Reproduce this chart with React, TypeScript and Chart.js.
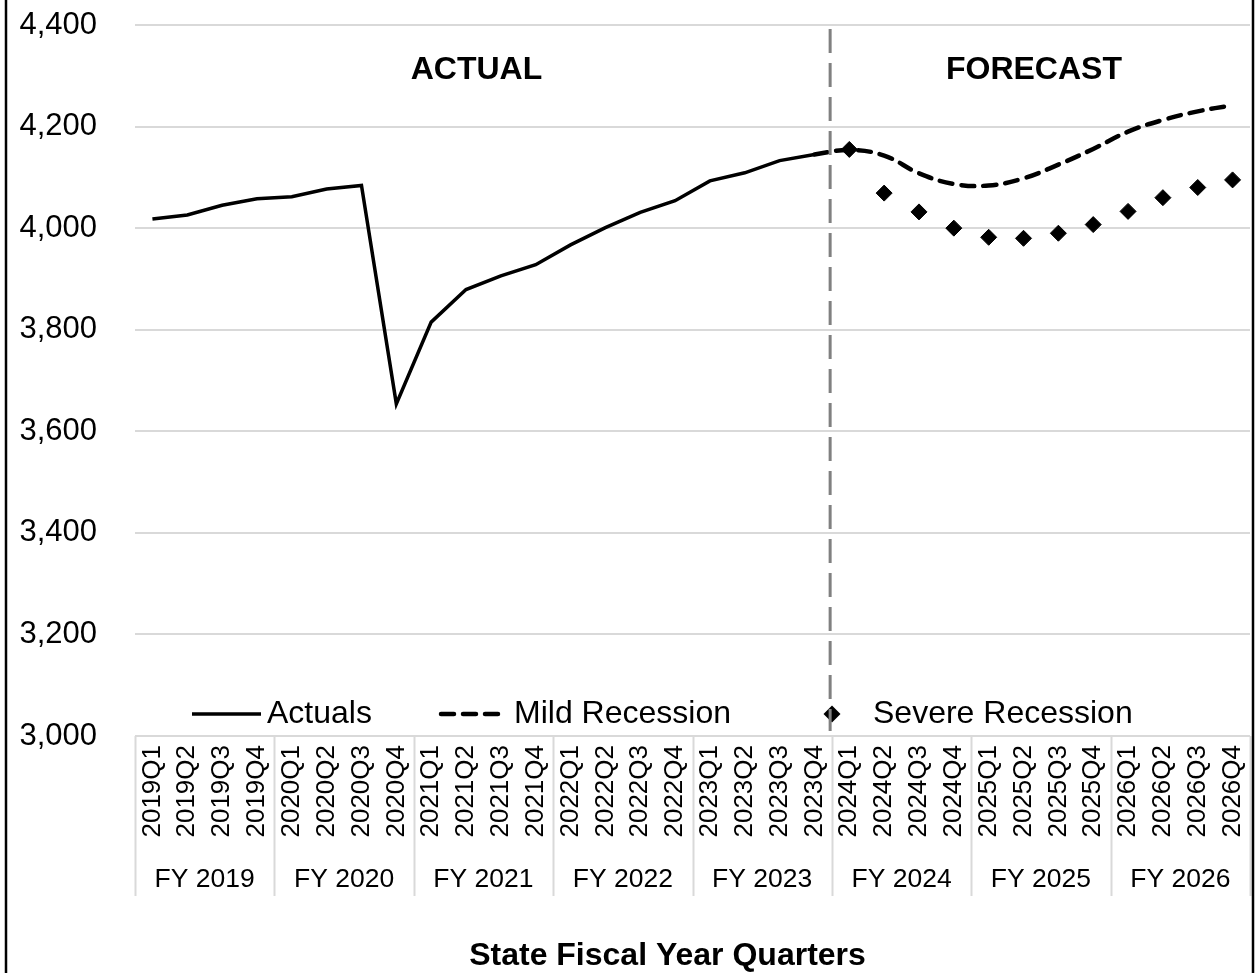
import { useEffect, useRef } from 'react';
import { Chart, registerables } from 'chart.js';

Chart.register(...registerables);

const FONT = "'Liberation Sans', Arial, Helvetica, sans-serif";

// Quarter categories along the x axis
const quarters = [
  '2019Q1', '2019Q2', '2019Q3', '2019Q4',
  '2020Q1', '2020Q2', '2020Q3', '2020Q4',
  '2021Q1', '2021Q2', '2021Q3', '2021Q4',
  '2022Q1', '2022Q2', '2022Q3', '2022Q4',
  '2023Q1', '2023Q2', '2023Q3', '2023Q4',
  '2024Q1', '2024Q2', '2024Q3', '2024Q4',
  '2025Q1', '2025Q2', '2025Q3', '2025Q4',
  '2026Q1', '2026Q2', '2026Q3', '2026Q4',
];

// Fiscal-year group labels, four quarters each
const fiscalYears = ['FY 2019', 'FY 2020', 'FY 2021', 'FY 2022', 'FY 2023', 'FY 2024', 'FY 2025', 'FY 2026'];

const N = null;

const actuals = [
  4018, 4026, 4045, 4058, 4062, 4077, 4084, 3654,
  3815, 3879, 3906, 3928, 3967, 4001, 4031, 4054,
  4093, 4109, 4133, 4145, N, N, N, N,
  N, N, N, N, N, N, N, N,
];

const mildRecession = [
  N, N, N, N, N, N, N, N,
  N, N, N, N, N, N, N, N,
  N, N, N, 4145, 4154, 4143, 4108, 4087,
  4084, 4098, 4125, 4156, 4190, 4213, 4230, 4242,
];

const severeRecession = [
  N, N, N, N, N, N, N, N,
  N, N, N, N, N, N, N, N,
  N, N, N, N, 4155, 4069, 4032, 4000,
  3982, 3980, 3990, 4007, 4033, 4060, 4080, 4095,
];

const yTicks = { min: 3000, max: 4400, step: 200 };

const periodLabels = ['ACTUAL', 'FORECAST'];
const axisTitle = 'State Fiscal Year Quarters';
const seriesNames = ['Actuals', 'Mild Recession', 'Severe Recession'];

const GRID = '#d9d9d9';
const MILD_DASH = [13, 9];

const decorPlugin = {
  id: 'decor',
  afterDraw(chart: any) {
    const { ctx, chartArea } = chart;
    const x = chart.scales.x;
    const y = chart.scales.y;
    const H = chart.height;

    ctx.save();

    // Fiscal-year group separators and labels under the quarter ticks
    ctx.strokeStyle = GRID;
    ctx.lineWidth = 2;
    for (let k = 0; k <= fiscalYears.length; k++) {
      const px = Math.round(x.getPixelForValue(k * 4 - 0.5)) + 0.5;
      ctx.beginPath();
      ctx.moveTo(px, chartArea.bottom);
      ctx.lineTo(px, chartArea.bottom + 160);
      ctx.stroke();
    }
    ctx.fillStyle = '#000';
    ctx.font = `26.5px ${FONT}`;
    ctx.textAlign = 'center';
    ctx.textBaseline = 'middle';
    fiscalYears.forEach((fy, k) => {
      ctx.fillText(fy, x.getPixelForValue(k * 4 + 1.5), chartArea.bottom + 144);
    });

    // Axis title
    ctx.font = `bold 32px ${FONT}`;
    ctx.fillText(axisTitle, (chartArea.left + chartArea.right) / 2 - 25, chartArea.bottom + 220);

    // Period headings
    ctx.font = `bold 32px ${FONT}`;
    ctx.fillText(periodLabels[0], x.getPixelForValue(9.3), y.getPixelForValue(4312));
    ctx.fillText(periodLabels[1], x.getPixelForValue(25.3), y.getPixelForValue(4312));

    // Legend inside the plot, along the bottom
    const ly = chartArea.bottom - 22;
    ctx.font = `32px ${FONT}`;
    ctx.textAlign = 'left';
    ctx.strokeStyle = '#000';
    ctx.lineWidth = 3.5;
    ctx.lineCap = 'butt';
    ctx.beginPath();
    ctx.moveTo(192, ly);
    ctx.lineTo(261, ly);
    ctx.stroke();
    ctx.fillText(seriesNames[0], 267, ly);

    ctx.lineWidth = 4.5;
    ctx.lineCap = 'round';
    ctx.setLineDash(MILD_DASH);
    ctx.beginPath();
    ctx.moveTo(441, ly);
    ctx.lineTo(503, ly);
    ctx.stroke();
    ctx.setLineDash([]);
    ctx.fillText(seriesNames[1], 514, ly);

    const dx = 832;
    const r = 8.5;
    ctx.beginPath();
    ctx.moveTo(dx - r, ly);
    ctx.lineTo(dx, ly - r);
    ctx.lineTo(dx + r, ly);
    ctx.lineTo(dx, ly + r);
    ctx.closePath();
    ctx.fill();
    ctx.fillText(seriesNames[2], 873, ly);

    // Actual / forecast divider
    const vx = x.getPixelForValue(19.45);
    ctx.strokeStyle = '#808080';
    ctx.lineWidth = 3;
    ctx.lineCap = 'butt';
    ctx.setLineDash([24, 10]);
    ctx.beginPath();
    ctx.moveTo(vx, chartArea.top + 4);
    ctx.lineTo(vx, chartArea.bottom - 5);
    ctx.stroke();
    ctx.setLineDash([]);

    // Frame edges
    ctx.strokeStyle = '#000';
    ctx.lineWidth = 2.5;
    ctx.beginPath();
    ctx.moveTo(6, 0);
    ctx.lineTo(6, H);
    ctx.moveTo(1253, 0);
    ctx.lineTo(1253, H);
    ctx.stroke();

    ctx.restore();
  },
};

export default function App() {
  const canvasRef = useRef<HTMLCanvasElement | null>(null);

  useEffect(() => {
    document.body.style.margin = '0';
    const canvas = canvasRef.current;
    if (!canvas) return;

    const chart = new Chart(canvas, {
      type: 'line',
      data: {
        labels: quarters,
        datasets: [
          {
            label: seriesNames[0],
            data: actuals,
            borderColor: '#000',
            backgroundColor: '#000',
            borderWidth: 3.5,
            pointRadius: 0,
            tension: 0,
            spanGaps: false,
          },
          {
            label: seriesNames[1],
            data: mildRecession,
            borderColor: '#000',
            backgroundColor: '#000',
            borderWidth: 4.5,
            borderDash: MILD_DASH,
            borderCapStyle: 'round',
            pointRadius: 0,
            tension: 0.4,
          },
          {
            label: seriesNames[2],
            data: severeRecession,
            showLine: false,
            pointStyle: 'rectRot',
            pointRadius: 8,
            pointBorderWidth: 1,
            pointBackgroundColor: '#000',
            pointBorderColor: '#000',
            borderColor: '#000',
          },
        ],
      },
      options: {
        responsive: false,
        animation: false,
        events: [],
        layout: { padding: { left: 0, right: 8, top: 25, bottom: 0 } },
        plugins: {
          legend: { display: false },
          tooltip: { enabled: false },
        },
        scales: {
          x: {
            type: 'category',
            offset: true,
            grid: { display: false, drawTicks: false },
            border: { display: false },
            ticks: {
              autoSkip: false,
              maxRotation: 90,
              minRotation: 90,
              padding: 9,
              color: '#000',
              font: { family: FONT, size: 26 },
            },
            afterFit(scale: any) {
              scale.height = 237;
              scale.paddingLeft = 0;
              scale.paddingRight = 0;
            },
          },
          y: {
            min: yTicks.min,
            max: yTicks.max,
            grid: { color: GRID, lineWidth: 2, drawTicks: false },
            border: { display: false },
            ticks: {
              stepSize: yTicks.step,
              padding: 38,
              color: '#000',
              font: { family: FONT, size: 31 },
              callback: (v: any) => Number(v).toLocaleString('en-US'),
            },
            afterFit(scale: any) {
              scale.width = 135;
              scale.paddingTop = 18;
              scale.paddingBottom = 18;
            },
          },
        },
      },
      plugins: [decorPlugin],
    });

    return () => chart.destroy();
  }, []);

  return (
    <canvas
      ref={canvasRef}
      width={1259}
      height={973}
      style={{ display: 'block', width: 1259, height: 973 }}
    />
  );
}
